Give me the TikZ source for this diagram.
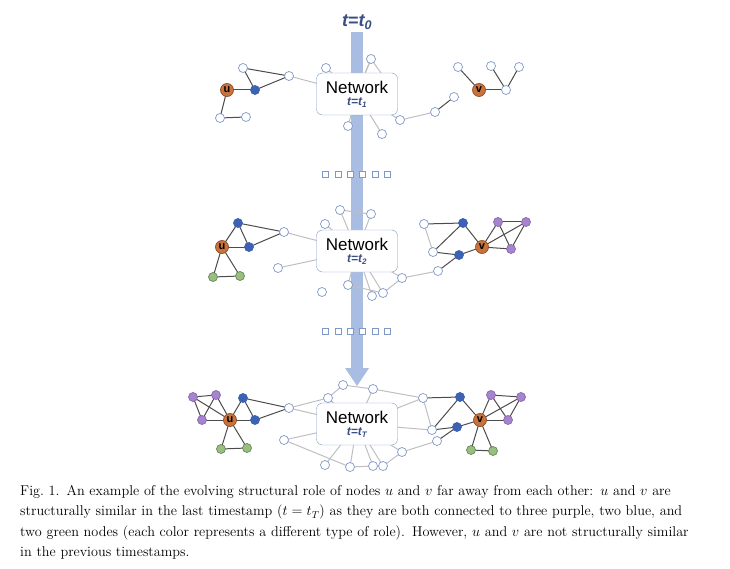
\documentclass[tikz,border=0pt]{standalone}
\usepackage{fontspec}
\newfontfamily\sansf{Liberation Sans}
\usetikzlibrary{arrows.meta}
\definecolor{tblue}{HTML}{3B4F86}
\definecolor{barblue}{HTML}{A9BCE2}
\definecolor{ringblue}{HTML}{7E98C8}
\definecolor{nblue}{HTML}{3D62B4}
\definecolor{norange}{HTML}{C8733C}
\definecolor{npurple}{HTML}{A784CF}
\definecolor{ngreen}{HTML}{98BF80}
\begin{document}
\begin{tikzpicture}[x=1pt,y=-1pt,
    wn/.style = {circle, draw=ringblue, fill=white, line width=0.7pt, inner sep=0pt, minimum size=9pt},
    bn/.style = {wn, draw=nblue, fill=nblue},
    pn/.style = {wn, draw=npurple!80!black, fill=npurple},
    gn/.style = {wn, draw=ngreen!70!black, fill=ngreen},
    on/.style = {wn, draw=norange!70!black, fill=norange, minimum size=13pt, font=\sansf\bfseries\fontsize{11}{11}\selectfont},
    net/.style = {draw=ringblue, fill=white, rounded corners=6pt, minimum width=81pt, minimum height=42pt, align=center, inner sep=1pt},
    dk/.style = {draw=black!70, line width=1pt},
    lt/.style = {draw=black!25, line width=1pt},
    dot/.style = {draw=ringblue, fill=white, minimum size=6pt, inner sep=0pt}]
\useasboundingbox (0,0) rectangle (730,569);

% time arrow
\fill[barblue] (351,32) rectangle (363,368);
\fill[barblue] (345,368) -- (369,368) -- (357,386) -- cycle;
\node[text=tblue, font=\sansf\itshape\bfseries\fontsize{18}{18}\selectfont] (t0) at (357,22) {t=t\textsubscript{0}};
\foreach \x [count=\i] in {325,338,350,362,375,387} {
  \node[dot] (da\i) at (\x,174) {};
  \node[dot] (db\i) at (\x,331) {};
}

% boxes (named first, drawn at the end)
\path (357,94) coordinate (n1) (357,251) coordinate (n2) (357,424) coordinate (n3);

% ---- t1
\foreach \n/\x/\y/\s in {a1/227/90/on, a2/255/90/bn, a3/243/68/wn, a4/289/76/wn, a5/220/118/wn, a6/246/117/wn,
    b1/479/90/on, b2/458/67/wn, b3/506/90/wn, b4/491/66/wn, b5/519/67/wn, b6/454/97/wn, b7/435/112/wn, b8/400/120/wn,
    c1/326/68/wn, c2/371/59/wn, c3/348/126/wn, c4/382/134/wn}
  \coordinate (\n) at (\x,\y);
\foreach \a/\b in {a4/n1, c1/n1, c2/n1, c3/n1, c4/n1, b8/n1, b7/b8}
  \draw[lt] (\a) -- (\b);
\draw[lt] (c2) -- (362,80) (c2) -- (386,80);
\foreach \a/\b in {a1/a2, a1/a5, a5/a6, a3/a2, a3/a4, a2/a4, b2/b1, b1/b3, b3/b4, b3/b5, b6/b7}
  \draw[dk] (\a) -- (\b);
\foreach \n/\x/\y/\s in {a2/255/90/bn, a3/243/68/wn, a4/289/76/wn, a5/220/118/wn, a6/246/117/wn,
    b2/458/67/wn, b3/506/90/wn, b4/491/66/wn, b5/519/67/wn, b6/454/97/wn, b7/435/112/wn, b8/400/120/wn,
    c1/326/68/wn, c2/371/59/wn, c3/348/126/wn, c4/382/134/wn}
  \node[\s] at (\n) {};
\node[on] (u1) at (a1) {u};
\node[on] (v1) at (b1) {v};

% ---- t2
\foreach \n/\x/\y in {u2/222/247, d1/238/223, d2/249/247, d3/284/232, d4/213/277, d5/240/276, d6/278/268,
    v2/482/247, e1/463/223, e2/459/255, e3/498/222, e4/526/222, e5/511/249, e6/424/224, e7/433/252, e8/438/271, e9/402/278,
    f1/340/210, f2/371/214, f3/325/224, f4/322/292, f5/348/285, f6/372/296, f7/383/293}
  \coordinate (\n) at (\x,\y);
\foreach \a/\b in {d3/n2, d6/n2, e6/e7, e8/e9, e9/n2, f1/f2, f1/n2, f2/n2, f3/n2, f5/n2, f6/n2, f7/n2, f7/e9, f5/f7}
  \draw[lt] (\a) -- (\b);
\foreach \a/\b in {u2/d1, u2/d2, u2/d4, u2/d5, d4/d5, d1/d2, d1/d3, d2/d3,
    v2/e1, v2/e2, v2/e3, v2/e5, v2/e4, e3/e4, e4/e5, e3/e5, e6/e1, e1/e7, e7/e2, e2/e8}
  \draw[dk] (\a) -- (\b);
\foreach \n/\s in {d1/bn, d2/bn, d3/wn, d4/gn, d5/gn, d6/wn, e1/bn, e2/bn, e3/pn, e4/pn, e5/pn,
    e6/wn, e7/wn, e8/wn, e9/wn, f1/wn, f2/wn, f3/wn, f4/wn, f5/wn, f6/wn, f7/wn}
  \node[\s] at (\n) {};
\node[on] (u2n) at (u2) {u};
\node[on] (v2n) at (v2) {v};

% ---- tT
\foreach \n/\x/\y in {u3/230/420, g1/193/397, g2/216/395, g3/202/420, g4/243/398, g5/255/420, g6/289/408, g7/221/449, g8/247/448,
    v3/480/420, h1/460/397, h2/457/427, h3/491/395, h4/521/397, h5/508/420, h6/471/450, h7/493/451,
    h8/423/398, h9/432/430, h10/437/441, h11/402/452,
    k1/343/385, k2/373/389, k3/328/398, k4/284/440, k5/350/467, k6/325/465, k7/373/466, k8/383/466}
  \coordinate (\n) at (\x,\y);
\foreach \a/\b in {g6/k3, k1/k2, k1/k3, k2/n3, k3/n3, k4/n3, k4/k5, k5/k7, k6/n3, k7/n3, k8/h11, h11/n3,
    h8/n3, h9/n3, h11/h10, h8/h9, k5/n3, k8/n3, g6/n3, k2/h8}
  \draw[lt] (\a) -- (\b);
\foreach \a/\b in {g1/g2, g1/g3, g1/u3, g2/g3, g2/u3, g3/u3, u3/g4, u3/g5, g4/g5, g4/g6, g5/g6, u3/g7, u3/g8, g7/g8,
    v3/h1, v3/h2, v3/h3, v3/h5, v3/h4, h3/h4, h4/h5, h3/h5, h8/h1, h1/h9, h9/h2, h2/h10, v3/h6, v3/h7, h6/h7}
  \draw[dk] (\a) -- (\b);
\foreach \n/\s in {g1/pn, g2/pn, g3/pn, g4/bn, g5/bn, g6/wn, g7/gn, g8/gn, h1/bn, h2/bn, h3/pn, h4/pn, h5/pn,
    h6/gn, h7/gn, h8/wn, h9/wn, h10/wn, h11/wn, k1/wn, k2/wn, k3/wn, k4/wn, k5/wn, k6/wn, k7/wn, k8/wn}
  \node[\s] at (\n) {};
\node[on] (u3n) at (u3) {u};
\node[on] (v3n) at (v3) {v};

% network boxes
\foreach \b/\t in {n1/1, n2/2, n3/T}
  \node[net] at (\b) {{\sansf\fontsize{17}{18}\selectfont Network}\\
    {\sansf\itshape\bfseries\fontsize{12}{13}\selectfont\color{tblue} t=t\textsubscript{\t}}};

% caption
\node[anchor=north west, inner sep=0pt, text width=710pt, font=\fontsize{14.2}{20.5}\selectfont] (cap) at (20,485)
  {Fig.~1.\enspace An example of the evolving structural role of nodes $u$ and $v$ far away from each other: $u$ and $v$ are\\
   structurally similar in the last timestamp ($t=t_T$) as they are both connected to three purple, two blue, and\\
   two green nodes (each color represents a different type of role). However, $u$ and $v$ are not structurally similar\\
   in the previous timestamps.};
\end{tikzpicture}
\end{document}
